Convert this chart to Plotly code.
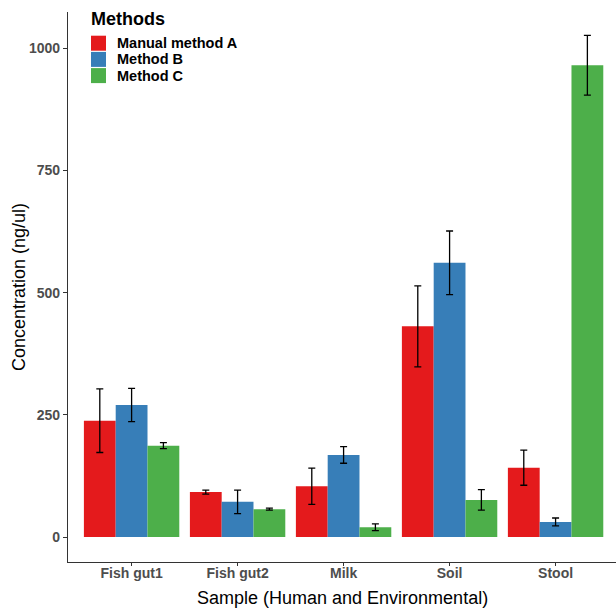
import plotly.graph_objects as go

samples = ["Fish gut1", "Fish gut2", "Milk", "Soil", "Stool"]
methods = ["Manual method A", "Method B", "Method C"]
colors = ["#E41A1C", "#377EB8", "#4DAF4A"]

method_a = [238, 92, 104, 431, 142]
method_a_err = [65, 4, 37, 83, 36]
method_b = [270, 72, 168, 561, 31]
method_b_err = [34, 24, 17, 65, 8]
method_c = [187, 57, 20, 76, 965]
method_c_err = [6, 2, 7, 21, 61]

values = [method_a, method_b, method_c]
errors = [method_a_err, method_b_err, method_c_err]

font_family = "Liberation Sans, Arial, sans-serif"

W, H = 616, 610
ML, MR, MT, MB = 68, 0, 12, 48
PW, PH = W - ML - MR, H - MT - MB


def px_x(p):
    return (p - ML) / PW


def px_y(p):
    return (H - MB - p) / PH


fig = go.Figure()
for name, col, v, e in zip(methods, colors, values, errors):
    fig.add_trace(go.Bar(
        x=samples, y=v, name=name, showlegend=False,
        marker=dict(color=col, line=dict(width=0)),
        error_y=dict(type="data", array=e, visible=True, color="black",
                     thickness=1.3, width=3.5),
    ))

# custom legend (ggplot style)
annotations = [dict(
    text="<b>Methods</b>", xref="paper", yref="paper",
    x=px_x(89), y=px_y(18.5), xanchor="left", yanchor="middle",
    showarrow=False, font=dict(size=18, color="black", family=font_family),
)]
shapes = []
row0, step, key = 43.2, 16.2, 15
for i, (name, col) in enumerate(zip(methods, colors)):
    cy = row0 + i * step
    shapes.append(dict(
        type="rect", xref="paper", yref="paper",
        x0=px_x(91), x1=px_x(91 + key), y0=px_y(cy - key / 2), y1=px_y(cy + key / 2),
        fillcolor=col, line=dict(width=0),
    ))
    annotations.append(dict(
        text="<b>" + name + "</b>", xref="paper", yref="paper",
        x=px_x(115), y=px_y(cy), xanchor="left", yanchor="middle",
        showarrow=False, font=dict(size=14.5, color="black", family=font_family),
    ))

# axis titles
annotations.append(dict(
    text="Concentration (ng/ul)", xref="paper", yref="paper",
    x=px_x(19), y=0.5, xanchor="center", yanchor="middle", textangle=-90,
    showarrow=False, font=dict(size=18, color="black", family=font_family),
))
annotations.append(dict(
    text="Sample (Human and Environmental)", xref="paper", yref="paper",
    x=0.5, y=px_y(598), xanchor="center", yanchor="middle",
    showarrow=False, font=dict(size=18, color="black", family=font_family),
))

fig.update_layout(
    width=W, height=H,
    margin=dict(l=ML, r=MR, t=MT, b=MB, autoexpand=False),
    plot_bgcolor="white", paper_bgcolor="white",
    barmode="group", bargap=0.1, bargroupgap=0,
    font=dict(family=font_family, color="black"),
    showlegend=False,
    annotations=annotations,
    shapes=shapes,
    xaxis=dict(
        range=[-0.6, 4.57], showgrid=False, showline=True, automargin=False,
        linecolor="#333333", linewidth=1.2,
        ticks="outside", ticklen=3, tickcolor="#333333", ticklabelstandoff=-5,
        tickfont=dict(size=14, color="#4D4D4D", weight="bold"),
    ),
    yaxis=dict(
        range=[-51, 1074], showgrid=False, showline=True, zeroline=False, automargin=False,
        linecolor="#333333", linewidth=1.2,
        ticks="outside", ticklen=4, tickcolor="#333333",
        tickvals=[0, 250, 500, 750, 1000],
        tickfont=dict(size=14, color="#4D4D4D", weight="bold"),
    ),
)

fig.write_html(
    "out.html",
    config={"displayModeBar": False},
    post_script="document.body.style.margin='0';document.body.style.overflow='hidden';",
)
